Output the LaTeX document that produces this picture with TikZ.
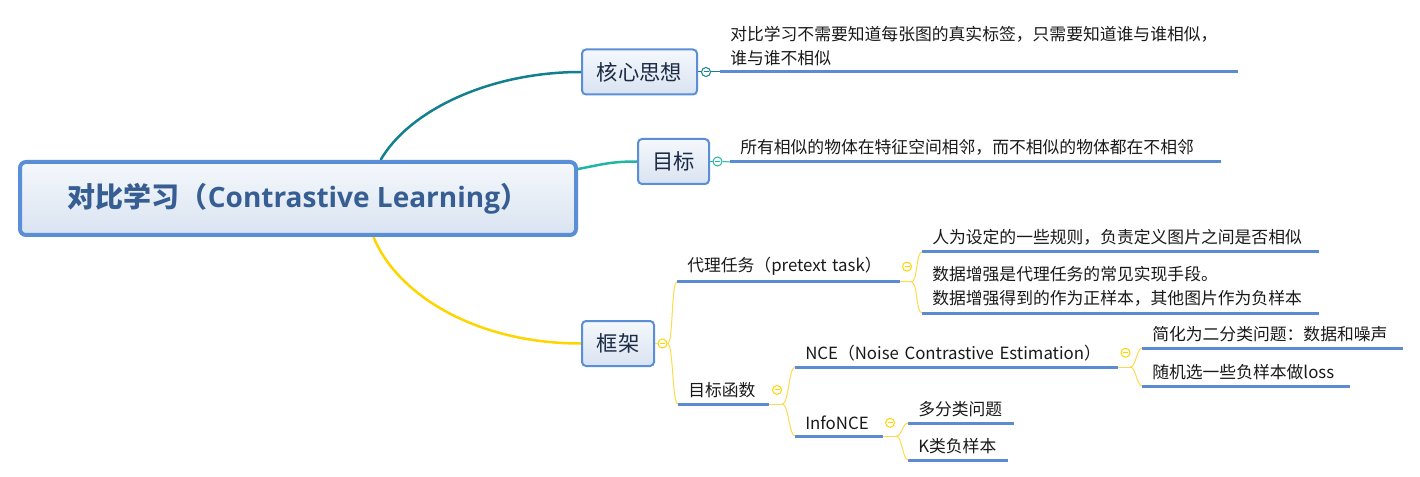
\documentclass[tikz,border=0pt]{standalone}
\usepackage{fontspec}
\setmainfont{Noto Sans CJK SC}
\newfontfamily\latfont{Open Sans}
\usetikzlibrary{positioning, backgrounds}

\definecolor{boxblue}{HTML}{5A8ED6}
\definecolor{lineblue}{HTML}{5B8BD0}
\definecolor{boxtop}{HTML}{F5F8FC}
\definecolor{boxbottom}{HTML}{D9E3F1}
\definecolor{rootink}{HTML}{365E92}
\definecolor{boxink}{HTML}{1C2B45}
\definecolor{kernteal}{HTML}{12808E}
\definecolor{goalteal}{HTML}{22B5A6}
\definecolor{frameyellow}{HTML}{FFD500}
\definecolor{braceyellow}{HTML}{FFD84D}

\newcommand\pxu{0.75pt}

\tikzset{collapse/.style={draw=#1, fill=white, circle, line width=1*\pxu,
    minimum size=9*\pxu, inner sep=0pt,
    path picture={\draw[#1, line width=1*\pxu]
      ([xshift=-2.5*\pxu]path picture bounding box.center) --
      ([xshift=2.5*\pxu]path picture bounding box.center);}}}

\begin{document}
\begin{tikzpicture}[x=\pxu, y=-\pxu]
    \tikzstyle{rootbox}=[draw=boxblue, line width=4*\pxu, rounded corners=6*\pxu,
        top color=boxtop, bottom color=boxbottom, minimum width=556*\pxu,
        minimum height=73*\pxu, text=rootink, font=\fontsize{21}{24}\selectfont\bfseries]
    \tikzstyle{topicbox}=[draw=boxblue, line width=2*\pxu, rounded corners=4*\pxu,
        top color=boxtop, bottom color=boxbottom, minimum height=45*\pxu,
        text=boxink, font=\fontsize{16}{19}\selectfont]
    \tikzstyle{leaf}=[anchor=south west, inner xsep=10*\pxu, inner ysep=6*\pxu,
        align=left, font=\fontsize{12.6}{18}\selectfont, text=black!90]
    \tikzstyle{uline}=[draw=lineblue, line width=3*\pxu]
    \tikzstyle{yline}=[draw=braceyellow, line width=1*\pxu]
    \useasboundingbox (0,0) rectangle (1420,477);

    % main topic and the three branches
    \node[rootbox] (root) at (298,198.5) {对比学习（{\latfont\bfseries Contrastive Learning}）};
    \node[topicbox, minimum width=115*\pxu] (kern) at (639.5,72) {核心思想};
    \node[topicbox, minimum width=71*\pxu] (goal) at (673.5,161.5) {目标};
    \node[topicbox, minimum width=72*\pxu] (frame) at (618,343.5) {框架};

    \node[collapse=kernteal, right=3*\pxu of kern] (kernC) {};
    \node[collapse=goalteal, right=2.5*\pxu of goal] (goalC) {};
    \node[collapse=frameyellow, right=2.5*\pxu of frame] (frameC) {};

    % leaves
    \node[leaf, text width=372.75pt] (kernLeaf) at (720,72)
        {对比学习不需要知道每张图的真实标签，只需要知道谁与谁相似，\\谁与谁不相似};
    \node[leaf, text width=352.5pt] (goalLeaf) at (730,162)
        {所有相似的物体在特征空间相邻，而不相似的物体都在不相邻};
    \node[leaf, text width=151.5pt] (dai) at (677,282) {代理任务（pretext~task）};
    \node[leaf, text width=282pt] (daiA) at (922,252) {人为设定的一些规则，负责定义图片之间是否相似};
    \node[leaf, text width=282pt] (daiB) at (922,313)
        {数据增强是代理任务的常见实现手段。\\数据增强得到的作为正样本，其他图片作为负样本};
    \node[leaf, text width=52.5pt] (obj) at (678,404) {目标函数};
    \node[leaf, text width=226.5pt] (nce) at (795,367) {NCE（Noise~Contrastive~Estimation）};
    \node[leaf, text width=180pt] (nceA) at (1142,348) {简化为二分类问题：数据和噪声};
    \node[leaf, text width=140.25pt] (nceB) at (1142,386) {随机选一些负样本做loss};
    \node[leaf, text width=50.25pt] (info) at (795,436) {InfoNCE};
    \node[leaf, text width=63.75pt] (infoA) at (908,423) {多分类问题};
    \node[leaf, text width=59.25pt] (infoB) at (908,460) {K类负样本};

    \foreach \n in {kernLeaf, goalLeaf, dai, daiA, daiB, obj, nce, nceA, nceB, info, infoA, infoB}
        \draw[uline] (\n.south west) -- (\n.south east);

    \node[collapse=frameyellow, right=2.5*\pxu of dai] (daiC) {};
    \node[collapse=frameyellow, right=3.5*\pxu of obj] (objC) {};
    \node[collapse=frameyellow, right=3*\pxu of nce] (nceC) {};
    \node[collapse=frameyellow, right=2.5*\pxu of info] (infoC) {};

    % branch curves behind the boxes
    \begin{scope}[on background layer]
        \draw[kernteal, line width=2.5*\pxu] (root.25) .. controls +(29,-50) and +(-91,0) .. (kern.west);
        \draw[goalteal, line width=2.5*\pxu] (root.6) .. controls +(25,-5) and +(-25,0) .. (goal.west);
        \draw[frameyellow, line width=2.5*\pxu] (root.-27) .. controls +(21,53) and +(-111,0) .. (frame.west);
    \end{scope}

    \draw[kernteal, line width=1*\pxu] (kern.east) -- (kernC.west);
    \draw[kernteal, line width=1*\pxu] (kernC.east) -- (kernLeaf.south west);
    \draw[goalteal, line width=1*\pxu] (goal.east) -- (goalC.west);
    \draw[goalteal, line width=1*\pxu] (goalC.east) -- (goalLeaf.south west);

    \draw[yline] (frame.east) -- (frameC.west);
    \draw[yline] (frameC.east) .. controls +(6,0) and +(-6,0) .. (dai.south west);
    \draw[yline] (frameC.east) .. controls +(6,0) and +(-6,0) .. (obj.south west);

    \draw[yline] (dai.south east) -- ++(12,0) coordinate (daiJ);
    \draw[yline] (daiJ) .. controls +(6,0) and +(-6,0) .. (daiA.south west);
    \draw[yline] (daiJ) .. controls +(6,0) and +(-6,0) .. (daiB.south west);

    \draw[yline] (obj.south east) -- ++(14,0) coordinate (objJ);
    \draw[yline] (objJ) .. controls +(6,0) and +(-6,0) .. (nce.south west);
    \draw[yline] (objJ) .. controls +(6,0) and +(-6,0) .. (info.south west);

    \draw[yline] (nce.south east) -- ++(13,0) coordinate (nceJ);
    \draw[yline] (nceJ) .. controls +(5,0) and +(-5,0) .. (nceA.south west);
    \draw[yline] (nceJ) .. controls +(5,0) and +(-5,0) .. (nceB.south west);

    \draw[yline] (info.south east) -- ++(14,0) coordinate (infoJ);
    \draw[yline] (infoJ) .. controls +(5,0) and +(-5,0) .. (infoA.south west);
    \draw[yline] (infoJ) .. controls +(5,0) and +(-5,0) .. (infoB.south west);
\end{tikzpicture}
\end{document}
